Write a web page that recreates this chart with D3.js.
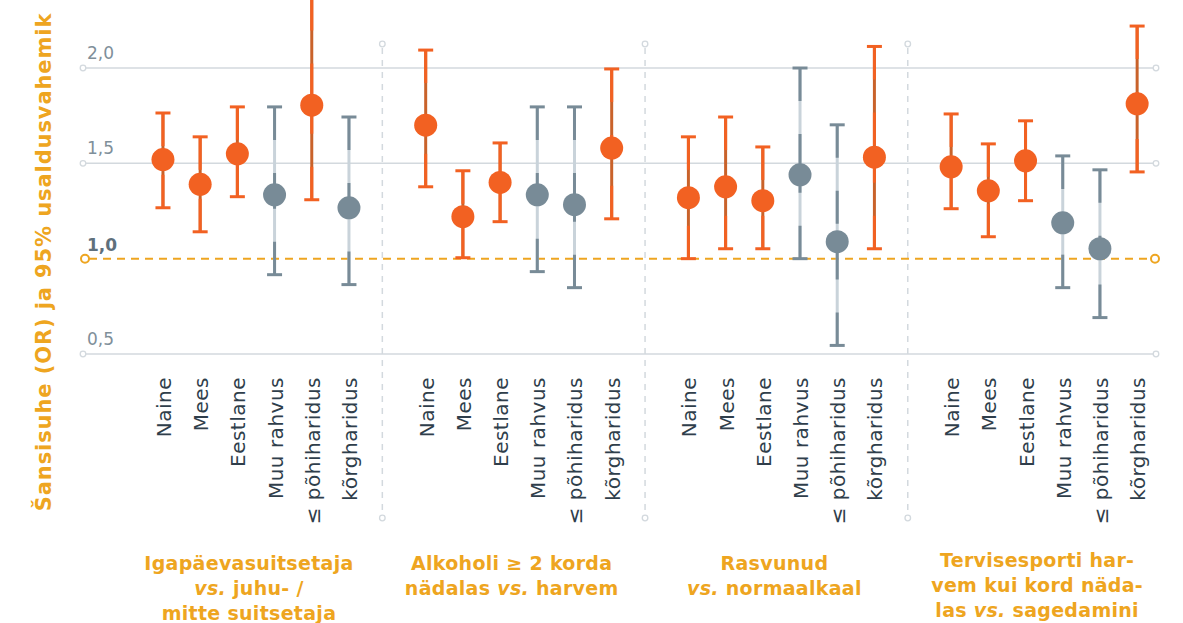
<!DOCTYPE html>
<html>
<head>
<meta charset="utf-8">
<script src="https://cdn.jsdelivr.net/npm/d3@7"></script>
<style>
  body { margin: 0; background: #fff; }
  svg { display: block; font-family: "DejaVu Sans", sans-serif; }
</style>
</head>
<body>
<div id="chart"></div>
<script>
// categories inside every group
var categories = ["Naine", "Mees", "Eestlane", "Muu rahvus", "≤ põhiharidus", "kõrgharidus"];
var groupIds = ["suits", "alko", "rasv", "sport"];
// group titles, "vs." gets italic
var groupTitles = [
  ["Igapäevasuitsetaja", "vs. juhu- /", "mitte suitsetaja"],
  ["Alkoholi ≥ 2 korda", "nädalas vs. harvem"],
  ["Rasvunud", "vs. normaalkaal"],
  ["Tervisesporti har-", "vem kui kord näda-", "las vs. sagedamini"]
];
// odds ratios and 95% CI, one row per group
var orValues = [
  [1.52, 1.39, 1.55, 1.335, 1.805, 1.267],
  [1.70, 1.22, 1.40, 1.335, 1.283, 1.58],
  [1.32, 1.377, 1.304, 1.44, 1.089, 1.532],
  [1.482, 1.356, 1.513, 1.188, 1.052, 1.812]
];
var ciLow = [
  [1.267, 1.141, 1.325, 0.916, 1.309, 0.864],
  [1.377, 1.005, 1.194, 0.932, 0.848, 1.209],
  [1.0, 1.052, 1.052, 1.0, 0.545, 1.052],
  [1.262, 1.115, 1.304, 0.848, 0.691, 1.455]
];
var ciHigh = [
  [1.764, 1.639, 1.796, 1.796, 2.37, 1.743],
  [2.094, 1.461, 1.607, 1.796, 1.796, 1.995],
  [1.639, 1.743, 1.586, 2.0, 1.702, 2.113],
  [1.759, 1.602, 1.723, 1.539, 1.466, 2.22]
];
var significant = [
  [1, 1, 1, 0, 1, 0],
  [1, 1, 1, 0, 0, 1],
  [1, 1, 1, 0, 0, 1],
  [1, 1, 1, 0, 0, 1]
];
var yTicks = [0.5, 1.0, 1.5, 2.0];
var yTitle = "Šansisuhe (OR) ja 95% usaldusvahemik";

var opt = {
  width: 1183, height: 623,
  gridLeft: 83, gridRight: 1156,
  yTop: 68, yBottom: 354,
  dotR: 11.5, capHalf: 7.5
};
var col = {
  orange: "#f26122", orangeAlt: "#c9622a",
  gray: "#788b97", grayAlt: "#c9d3da",
  gold: "#eea520", grid: "#d3d9de", tick: "#7f8f9a", label: "#2f3e4b"
};

var svg = d3.select("#chart").append("svg")
  .attr("width", opt.width)
  .attr("height", opt.height);

var y = d3.scaleLinear().domain([0.5, 2.0]).range([opt.yBottom, opt.yTop]);
var xGroup = d3.scaleBand().domain(groupIds).range([124.6, 1175.5]);
var xItem = d3.scalePoint().domain(categories).range([-93, 93]);

// gridlines
var grid = svg.append("g");
yTicks.forEach(function(t) {
  if (t === 1.0) return;
  grid.append("line")
    .attr("x1", opt.gridLeft).attr("x2", opt.gridRight)
    .attr("y1", y(t)).attr("y2", y(t))
    .attr("stroke", col.grid).attr("stroke-width", 1.5);
  [opt.gridLeft, opt.gridRight].forEach(function(cx) {
    grid.append("circle").attr("cx", cx).attr("cy", y(t)).attr("r", 2.8)
      .attr("fill", "#fff").attr("stroke", col.grid).attr("stroke-width", 1.3);
  });
  grid.append("text")
    .attr("x", 87).attr("y", y(t) - 9)
    .attr("fill", col.tick).style("font-size", "17px")
    .text(d3.format(".1f")(t).replace(".", ","));
});

// separators between groups
groupIds.slice(1).forEach(function(g) {
  var sx = xGroup(g) - 5;
  grid.append("line")
    .attr("x1", sx).attr("x2", sx).attr("y1", 48).attr("y2", 514)
    .attr("stroke", col.grid).attr("stroke-width", 1.5)
    .attr("stroke-dasharray", "6,6");
  [44, 518].forEach(function(cy) {
    grid.append("circle").attr("cx", sx).attr("cy", cy).attr("r", 2.8)
      .attr("fill", "#fff").attr("stroke", col.grid).attr("stroke-width", 1.3);
  });
});

// reference line OR = 1
grid.append("line")
  .attr("x1", opt.gridLeft + 6).attr("x2", opt.gridRight - 5)
  .attr("y1", y(1)).attr("y2", y(1))
  .attr("stroke", col.gold).attr("stroke-width", 2)
  .attr("stroke-dasharray", "8,6");
[opt.gridLeft + 2, opt.gridRight - 1].forEach(function(cx) {
  grid.append("circle").attr("cx", cx).attr("cy", y(1)).attr("r", 4)
    .attr("fill", "#fff").attr("stroke", col.gold).attr("stroke-width", 2);
});
grid.append("text")
  .attr("x", 87).attr("y", y(1) - 8)
  .attr("fill", "#5f707c").style("font-size", "17px").style("font-weight", "bold")
  .text("1,0");

// y axis title
svg.append("text")
  .attr("transform", "translate(51," + 262 + ") rotate(-90)")
  .attr("text-anchor", "middle")
  .attr("fill", col.gold)
  .style("font-size", "21px").style("font-weight", "bold")
  .style("letter-spacing", "0.9px")
  .text(yTitle);

// error bars and points
groupIds.forEach(function(g, gi) {
  var cx0 = xGroup(g) + xGroup.bandwidth() / 2;
  var gEl = svg.append("g").attr("transform", "translate(" + cx0 + ",0)");
  categories.forEach(function(c, ci) {
    var x = xItem(c);
    var sig = significant[gi][ci];
    var main = sig ? col.orange : col.gray;
    var alt = sig ? col.orangeAlt : col.grayAlt;
    var yHi = y(ciHigh[gi][ci]), yLo = y(ciLow[gi][ci]), yMid = y(orValues[gi][ci]);
    gEl.append("line").attr("x1", x).attr("x2", x).attr("y1", yHi).attr("y2", yLo)
      .attr("stroke", alt).attr("stroke-width", 3);
    // segments drawn from each cap toward the point
    [[yHi, yMid], [yLo, yMid]].forEach(function(s) {
      gEl.append("line").attr("x1", x).attr("x2", x).attr("y1", s[0]).attr("y2", s[1])
        .attr("stroke", main).attr("stroke-width", 3)
        .attr("stroke-dasharray", "33,33");
    });
    [yHi, yLo].forEach(function(cy) {
      gEl.append("line")
        .attr("x1", x - opt.capHalf).attr("x2", x + opt.capHalf)
        .attr("y1", cy).attr("y2", cy)
        .attr("stroke", main).attr("stroke-width", 3);
    });
    gEl.append("circle").attr("cx", x).attr("cy", yMid).attr("r", opt.dotR)
      .attr("fill", main);

    // category label
    gEl.append("text")
      .attr("transform", "translate(" + (x + 8) + ",377) rotate(-90)")
      .attr("text-anchor", "end")
      .attr("fill", col.label)
      .style("font-size", "20px")
      .style("letter-spacing", "0.5px")
      .text(c);
  });

  // group title
  var title = gEl.append("text")
    .attr("text-anchor", "middle")
    .attr("fill", col.gold)
    .style("font-size", "19px").style("font-weight", "bold")
    .style("letter-spacing", "0.3px");
  var baseY = gi === 3 ? 567 : 570;
  groupTitles[gi].forEach(function(line, li) {
    var t = title.append("tspan").attr("x", -7).attr("y", baseY + li * 25);
    var parts = line.split("vs.");
    parts.forEach(function(p, pi) {
      if (pi > 0) t.append("tspan").style("font-style", "italic").text("vs.");
      if (p) t.append("tspan").text(p);
    });
  });
});
</script>
</body>
</html>
